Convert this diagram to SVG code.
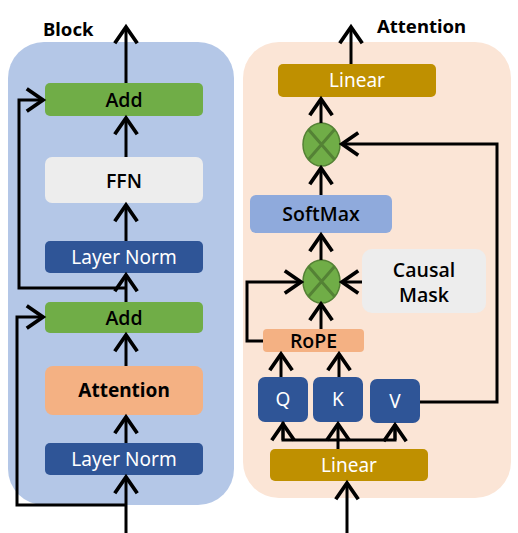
<svg xmlns="http://www.w3.org/2000/svg" width="518" height="533" viewBox="0 0 518 533">
<defs>
<marker id="ah" markerUnits="userSpaceOnUse" markerWidth="30" markerHeight="30" refX="0" refY="0" viewBox="-16 -12 20 24" orient="auto" overflow="visible">
<path d="M-13,-9 L0,0 L-13,9" fill="none" stroke="#000" stroke-width="3"/>
</marker>
<style>
.t{font-family:"Noto Sans","Open Sans",sans-serif;font-size:19px;text-anchor:middle;}
.m{font-family:"Open Sans","Noto Sans",sans-serif;font-weight:600;font-size:19.5px;}
.b{font-weight:bold;}
.w{fill:#fff;}
.k{fill:#000;}
.c{fill:none;stroke:#000;stroke-width:3;}
.a{marker-end:url(#ah);}
.ttl{font-family:"Noto Sans","Open Sans",sans-serif;font-size:18.5px;font-weight:bold;fill:#000;}
</style>
</defs>
<rect width="518" height="533" fill="#fff"/>
<g id="block-panel">
<rect x="8" y="42" width="226" height="463" rx="36" fill="#B4C7E7"/>
<text class="ttl" x="43" y="36">Block</text>
</g>
<g id="attention-panel">
<rect x="243" y="42" width="268" height="456" rx="36" fill="#FBE5D6"/>
<text class="ttl" x="377" y="33">Attention</text>
</g>
<g id="add-top"><rect x="45" y="83" width="158" height="33" rx="5" fill="#70AD47"/><text class="t m k" x="124" y="107">Add</text></g>
<g id="ffn"><rect x="45" y="157" width="158" height="46" rx="7" fill="#EDEDED"/><text class="t m k" x="124" y="188">FFN</text></g>
<g id="layernorm-top"><rect x="45" y="241" width="158" height="32" rx="5" fill="#2F5597"/><text class="t w" x="124" y="264">Layer Norm</text></g>
<g id="add-bottom"><rect x="45" y="302" width="158" height="31" rx="5" fill="#70AD47"/><text class="t m k" x="124" y="325">Add</text></g>
<g id="attention"><rect x="45" y="366" width="158" height="49" rx="8" fill="#F4B183"/><text class="t k b" x="124" y="397" font-size="18">Attention</text></g>
<g id="layernorm-bottom"><rect x="45" y="443" width="158" height="32" rx="5" fill="#2F5597"/><text class="t w" x="124" y="466">Layer Norm</text></g>

<g id="linear-top"><rect x="278" y="64" width="158" height="33" rx="5" fill="#BF9000"/><text class="t w" x="357" y="87">Linear</text></g>
<g id="mul-top"><ellipse cx="321.5" cy="144.5" rx="18.5" ry="21.5" fill="#70AD47" stroke="#548235" stroke-width="1.5"/><path d="M308.5,129.5 L334.5,159.5 M334.5,129.5 L308.5,159.5" stroke="#548235" stroke-width="3"/></g>
<g id="softmax"><rect x="250" y="195" width="142" height="38" rx="6" fill="#8FAADC"/><text class="t m k" x="321" y="221">SoftMax</text></g>
<g id="mul-bottom"><ellipse cx="321.5" cy="281.5" rx="18.5" ry="21.5" fill="#70AD47" stroke="#548235" stroke-width="1.5"/><path d="M308.5,266.5 L334.5,296.5 M334.5,266.5 L308.5,296.5" stroke="#548235" stroke-width="3"/></g>
<g id="causal-mask"><rect x="362" y="249" width="124" height="64" rx="10" fill="#EDEDED"/><text class="t m k" x="424" y="277">Causal</text><text class="t m k" x="424" y="302">Mask</text></g>
<g id="rope"><rect x="263" y="329" width="101" height="23" rx="4" fill="#F4B183"/><text class="t m k" x="313.5" y="348">RoPE</text></g>
<g id="q"><rect x="258" y="377" width="50" height="45" rx="7" fill="#2F5597"/><text class="t w" x="283" y="406">Q</text></g>
<g id="k"><rect x="313" y="377" width="50" height="45" rx="7" fill="#2F5597"/><text class="t w" x="338" y="406">K</text></g>
<g id="v"><rect x="370" y="379" width="50" height="44" rx="7" fill="#2F5597"/><text class="t w" x="395" y="408">V</text></g>
<g id="linear-bottom"><rect x="270" y="449" width="158" height="32" rx="5" fill="#BF9000"/><text class="t w" x="349" y="472">Linear</text></g>

<g id="connectors">
<line class="c a" x1="126" y1="83" x2="126" y2="27"/>
<line class="c a" x1="126" y1="157" x2="126" y2="118"/>
<line class="c a" x1="126" y1="241" x2="126" y2="205"/>
<line class="c a" x1="126" y1="302" x2="126" y2="275"/>
<line class="c a" x1="126" y1="366" x2="126" y2="335"/>
<line class="c a" x1="126" y1="443" x2="126" y2="417"/>
<line class="c a" x1="126" y1="533" x2="126" y2="477"/>
<polyline class="c a" points="126,288 19,288 19,100 43,100"/>
<polyline class="c a" points="126,505 17,505 17,317 43,317"/>

<line class="c a" x1="351" y1="64" x2="351" y2="27"/>
<line class="c a" x1="321" y1="123" x2="321" y2="99"/>
<line class="c a" x1="321" y1="195" x2="321" y2="168"/>
<line class="c a" x1="321" y1="260" x2="321" y2="235"/>
<line class="c a" x1="321" y1="329" x2="321" y2="304"/>
<line class="c a" x1="362" y1="282" x2="342" y2="282"/>
<polyline class="c a" points="263,341 247,341 247,282 301,282"/>
<polyline class="c a" points="420,402 497,402 497,144 342,144"/>
<line class="c a" x1="281" y1="377" x2="281" y2="354"/>
<line class="c a" x1="339" y1="377" x2="339" y2="354"/>
<polyline class="c" points="283,422 283,440 395,440 395,424"/>
<line class="c a" x1="283" y1="440" x2="283" y2="424"/>
<line class="c a" x1="395" y1="440" x2="395" y2="425"/>
<line class="c a" x1="338" y1="449" x2="338" y2="424"/>
<line class="c a" x1="347" y1="533" x2="347" y2="483"/>
</g>
</svg>
